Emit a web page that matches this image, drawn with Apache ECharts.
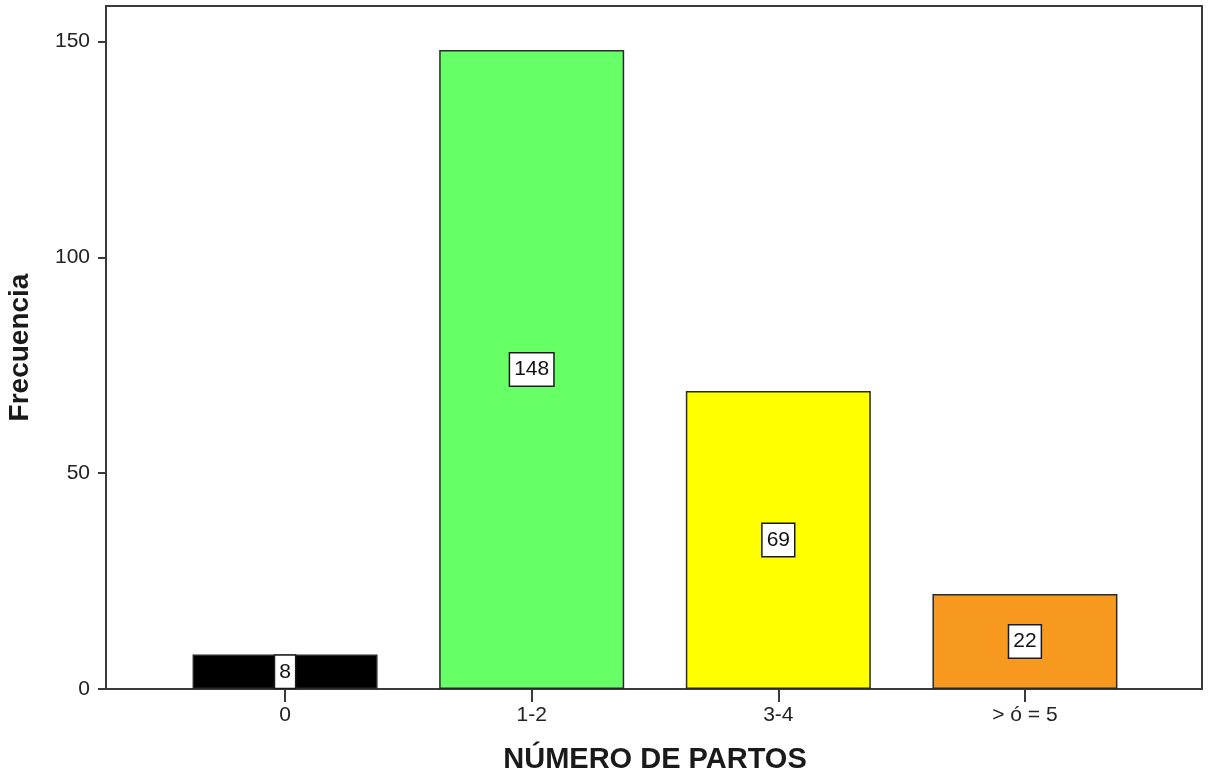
<!DOCTYPE html>
<html>
<head>
<meta charset="utf-8">
<script src="https://cdn.jsdelivr.net/npm/echarts@6/dist/echarts.min.js"></script>
<style>
  html, body { margin: 0; padding: 0; background: #fff; }
  #chart { width: 1208px; height: 775px; }
</style>
</head>
<body>
<div id="chart"></div>
<script>
// Number of births per respondent
const categories = ['0', '1-2', '3-4', '> ó = 5'];
const frequencies = [8, 148, 69, 22];
const barColors = ['#000000', '#66ff66', '#ffff00', '#f7981f'];
const yTicks = [0, 50, 100, 150];

const FONT = 'Liberation Sans, Arial, sans-serif';
const yMax = 158.2;

const chart = echarts.init(document.getElementById('chart'));

const plotTop = 6, plotBottom = 86; // bottom offset: 775 - 689

chart.setOption({
  animation: false,
  backgroundColor: '#ffffff',
  grid: [
    // outer frame with the value axis
    { left: 106, right: 6, top: plotTop, bottom: plotBottom, show: true,
      outerBoundsMode: 'none', containLabel: false,
      borderColor: '#3a3a3a', borderWidth: 2, backgroundColor: 'transparent' },
    // inner band that holds the bars
    { left: 161.75, right: 1208 - 1148.25, top: plotTop, bottom: plotBottom,
      outerBoundsMode: 'none', containLabel: false }
  ],
  xAxis: [
    { gridIndex: 0, type: 'value', min: 0, max: 1, show: false },
    {
      gridIndex: 1, type: 'category', data: categories,
      axisLine: { show: false },
      axisTick: { show: true, alignWithLabel: true, length: 13, inside: false,
        lineStyle: { color: '#3a3a3a', width: 2 } },
      axisLabel: { color: '#222', fontFamily: FONT, fontSize: 21, margin: 16 },
      name: 'NÚMERO DE PARTOS', nameLocation: 'middle', nameGap: 56,
      nameTextStyle: { color: '#1a1a1a', fontFamily: FONT, fontSize: 29, fontWeight: 'bold' }
    }
  ],
  yAxis: [
    {
      gridIndex: 0, type: 'value', min: 0, max: yMax, interval: 50,
      splitLine: { show: false },
      axisLine: { show: true, lineStyle: { color: '#3a3a3a', width: 2 } },
      axisTick: { show: true, length: 8, lineStyle: { color: '#3a3a3a', width: 2 },
        customValues: yTicks },
      axisLabel: { color: '#222', fontFamily: FONT, fontSize: 21, margin: 16,
        customValues: yTicks },
      name: 'Frecuencia', nameLocation: 'middle', nameGap: 72, nameRotate: 90,
      nameTextStyle: { color: '#1a1a1a', fontFamily: FONT, fontSize: 28, fontWeight: 'bold' }
    },
    { gridIndex: 1, type: 'value', min: 0, max: yMax, show: false }
  ],
  series: [{
    type: 'bar',
    xAxisIndex: 1, yAxisIndex: 1,
    barWidth: 185,
    data: frequencies.map((v, i) => ({
      value: v,
      itemStyle: { color: barColors[i], borderColor: '#2a2a2a', borderWidth: 1.5 }
    })),
    label: {
      show: true, position: 'inside',
      color: '#111', fontFamily: FONT, fontSize: 21, lineHeight: 25,
      backgroundColor: '#ffffff', borderColor: '#1a1a1a', borderWidth: 1.5,
      padding: [4, 4, 3, 4]
    }
  }]
});
</script>
</body>
</html>
